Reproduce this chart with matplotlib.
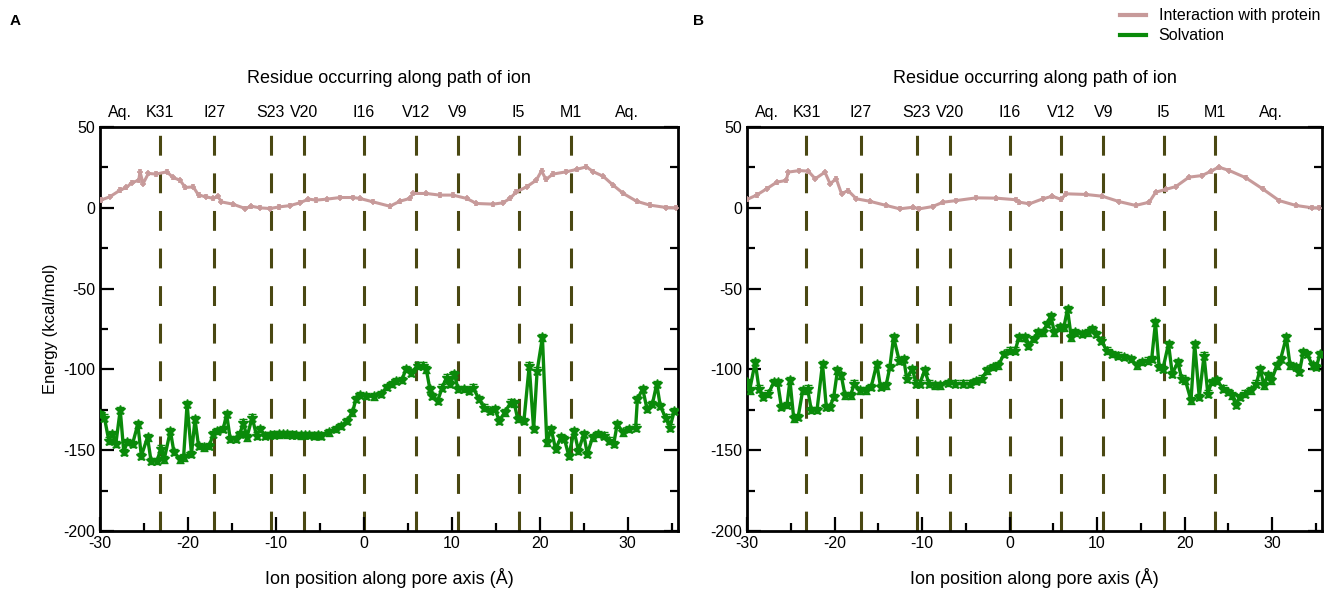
import numpy as np
import matplotlib.pyplot as plt
from matplotlib.ticker import MultipleLocator

plt.rcParams['font.family'] = ['Liberation Sans', 'DejaVu Sans']
plt.rcParams['axes.unicode_minus'] = False

# residue markers along the pore (Å)
residues = ["K31", "I27", "S23", "V20", "I16", "V12", "V9", "I5", "M1"]
residue_x = [-23.2, -17.0, -10.6, -6.8, 0.0, 5.9, 10.7, 17.6, 23.5]
top_labels = ["Aq."] + residues + ["Aq."]
top_label_x = [-27.7] + residue_x + [29.9]

# Panel A - interaction with protein
protA_x = [-29.9, -28.9, -27.7, -27.0, -26.4, -25.6, -25.45, -25.1, -24.5, -23.6,
           -22.4, -21.7, -20.9, -20.3, -19.4, -18.8, -17.9, -17.1, -16.6, -16.2,
           -14.9, -13.5, -12.8, -11.8, -10.7, -9.6, -8.4, -7.3, -6.3, -5.4,
           -4.2, -2.7, -1.2, -0.45, 1.05, 2.95, 4.1, 5.2, 5.6, 7.1,
           8.6, 10.1, 11.7, 12.8, 14.7, 15.8, 16.6, 17.35, 18.5, 19.6,
           20.2, 20.7, 21.5, 23.0, 24.2, 25.3, 26.1, 27.2, 28.35, 29.5,
           31.0, 32.5, 34.4, 35.5]
protA_y = [4.8, 6.8, 11.0, 12.6, 15.5, 17.1, 22.3, 15.0, 21.3, 20.9,
           22.3, 18.8, 17.1, 12.6, 13.0, 7.9, 6.8, 5.8, 7.2, 3.7,
           2.3, -0.4, 1.0, 0.0, -0.4, 0.6, 1.4, 3.1, 5.4, 4.8,
           5.4, 6.4, 6.4, 5.8, 3.7, 1.0, 4.1, 5.8, 8.9, 8.9,
           7.9, 7.9, 5.8, 2.7, 2.3, 3.1, 5.8, 9.9, 13.0, 17.1,
           22.9, 17.6, 20.9, 22.3, 23.8, 25.4, 22.3, 19.6, 14.0, 8.9,
           4.1, 1.7, 0.2, 0.0]

# Panel A - solvation
solvA_x = [-30.0, -29.5, -29.0, -28.6, -28.2, -27.7, -27.3, -26.9, -26.3, -25.7,
           -25.3, -24.6, -24.2, -23.5, -23.1, -22.7, -22.0, -21.6, -20.9, -20.5,
           -20.1, -19.6, -19.2, -18.8, -18.2, -17.6, -17.1, -16.7, -16.0, -15.6,
           -15.2, -14.5, -14.1, -13.7, -13.3, -12.7, -12.2, -11.8, -11.2, -10.7,
           -10.2, -9.7, -9.2, -8.7, -8.2, -7.7, -7.2, -6.7, -6.2, -5.7,
           -5.2, -4.9, -4.0, -3.2, -2.6, -1.9, -1.3, -0.9, -0.4, 0.2,
           1.1, 1.9, 2.6, 3.2, 3.7, 4.3, 4.8, 5.4, 6.1, 6.7,
           7.1, 7.5, 7.8, 8.4, 8.9, 9.4, 9.8, 10.3, 10.7, 11.4,
           12.0, 12.4, 13.1, 13.7, 14.3, 14.9, 15.4, 16.0, 16.7, 17.1,
           17.5, 18.2, 18.8, 19.3, 19.7, 20.3, 20.8, 21.3, 21.8, 22.4,
           22.8, 23.3, 23.9, 24.4, 25.0, 25.4, 26.0, 26.6, 27.3, 27.9,
           28.4, 28.8, 29.5, 30.1, 30.9, 31.1, 31.7, 32.2, 32.8, 33.3,
           33.7, 34.3, 34.8, 35.3]
solvA_y = [-127.7, -129.8, -144.0, -140.0, -146.0, -125.0, -151.0, -145.0, -146.0, -134.0,
           -153.5, -142.0, -156.6, -156.6, -149.0, -155.6, -138.0, -151.0, -155.6, -154.5,
           -121.5, -152.5, -130.8, -147.3, -148.3, -147.3, -140.0, -138.0, -137.0, -127.7,
           -143.0, -143.0, -140.0, -132.9, -142.0, -129.8, -141.0, -137.0, -141.0, -140.5,
           -140.3, -140.2, -140.0, -140.2, -140.4, -140.6, -140.8, -140.6, -140.7, -141.0,
           -140.8, -141.0, -139.0, -137.0, -135.0, -131.8, -126.6, -118.4, -115.9, -116.5,
           -116.7, -115.3, -111.0, -109.0, -107.0, -106.6, -99.8, -101.9, -97.7, -97.7,
           -100.0, -112.0, -116.3, -119.4, -111.2, -105.0, -109.0, -102.9, -112.0, -112.0,
           -113.2, -111.2, -118.4, -123.6, -125.6, -124.6, -131.8, -126.6, -120.5, -121.0,
           -130.8, -131.8, -97.7, -137.0, -100.8, -80.2, -145.2, -137.0, -149.4, -142.0,
           -143.0, -153.5, -138.0, -150.4, -140.0, -152.5, -142.0, -140.0, -141.0, -144.0,
           -146.3, -134.0, -139.0, -137.0, -136.0, -118.4, -112.0, -124.6, -121.5, -109.0,
           -122.6, -129.8, -136.0, -125.6]

# Panel B - interaction with protein
protB_x = [-30.0, -28.9, -27.75, -26.6, -25.5, -25.3, -24.0, -23.0, -22.2, -21.1,
           -20.5, -19.8, -19.2, -18.45, -17.5, -16.0, -14.1, -12.55, -11.0, -10.3,
           -8.8, -7.6, -6.1, -3.8, -1.5, 0.75, 1.13, 2.27, 3.8, 4.9,
           5.9, 6.45, 8.7, 10.6, 12.5, 14.4, 15.95, 16.7, 17.85, 19.0,
           20.5, 22.0, 23.0, 23.9, 25.1, 27.0, 28.9, 30.8, 32.7, 34.6,
           35.3]
protB_y = [5.2, 7.9, 11.8, 15.9, 17.0, 22.1, 23.1, 22.7, 18.0, 22.1,
           14.9, 18.0, 8.7, 10.7, 5.6, 4.1, 1.5, -0.6, 0.4, -0.6,
           0.8, 3.5, 4.5, 6.2, 6.0, 5.0, 3.5, 2.5, 5.6, 7.2,
           5.2, 8.7, 8.3, 7.2, 3.9, 1.5, 3.5, 9.7, 11.4, 13.2,
           19.0, 20.0, 22.7, 25.2, 23.1, 18.6, 11.8, 4.5, 1.5, 0.0,
           0.0]

# Panel B - solvation
solvB_x = [-30.0, -29.7, -29.06, -28.63, -28.2, -27.56, -26.92, -26.5, -26.07, -25.43,
           -25.09, -24.66, -24.15, -23.63, -23.08, -22.65, -22.0, -21.37, -20.94, -20.51,
           -20.09, -19.66, -19.23, -18.8, -18.16, -17.74, -17.09, -16.45, -15.81, -15.17,
           -14.74, -14.1, -13.68, -13.25, -12.61, -12.09, -11.75, -11.11, -10.68, -10.26,
           -9.7, -9.19, -8.55, -7.91, -7.05, -6.2, -5.34, -4.49, -3.85, -3.2,
           -2.56, -1.92, -1.28, -0.64, 0.0, 0.64, 1.07, 1.71, 2.14, 2.78,
           3.21, 3.85, 4.27, 4.7, 5.13, 5.77, 6.2, 6.62, 7.05, 7.48,
           8.33, 8.97, 9.4, 9.83, 10.47, 11.11, 11.75, 12.39, 13.03, 13.89,
           14.53, 15.17, 15.81, 16.24, 16.67, 17.09, 17.52, 18.16, 18.59, 19.23,
           19.66, 20.09, 20.73, 21.15, 21.67, 22.22, 22.65, 23.08, 23.72, 24.36,
           25.0, 25.43, 25.86, 26.28, 26.92, 27.56, 28.2, 28.63, 29.06, 29.49,
           29.91, 30.56, 30.98, 31.62, 32.05, 32.69, 33.12, 33.55, 33.97, 34.62,
           35.04, 35.47]
solvB_y = [-107.8, -112.9, -95.5, -111.9, -117.0, -115.0, -107.8, -107.8, -123.2, -122.1,
           -106.8, -130.3, -129.3, -112.9, -111.9, -125.2, -125.2, -96.5, -123.2, -123.2,
           -117.0, -100.6, -103.7, -116.0, -116.0, -108.8, -112.9, -112.9, -110.9, -96.5,
           -110.9, -109.8, -98.6, -80.1, -94.5, -93.4, -105.7, -99.6, -108.8, -108.8,
           -100.6, -108.8, -109.8, -109.8, -108.4, -108.8, -108.8, -108.8, -107.2, -105.7,
           -100.6, -98.6, -97.5, -90.4, -88.3, -88.3, -80.1, -80.1, -85.2, -81.1,
           -77.0, -77.0, -71.9, -66.8, -77.0, -74.0, -74.0, -62.7, -80.1, -77.0,
           -78.1, -77.0, -75.0, -78.1, -82.2, -88.3, -90.4, -91.4, -92.4, -93.4,
           -97.5, -95.5, -94.5, -93.4, -70.9, -98.6, -99.6, -84.2, -102.7, -95.5,
           -105.7, -106.8, -119.1, -84.2, -117.0, -91.4, -115.0, -107.8, -106.8, -111.9,
           -113.9, -116.0, -122.1, -117.0, -115.0, -112.9, -108.8, -99.6, -109.8, -103.7,
           -106.8, -97.5, -93.4, -80.1, -97.5, -98.6, -101.6, -89.3, -90.4, -97.5,
           -98.6, -90.4]

prot_err = 1.0
solv_err = 2.0

pink = '#c79a9a'
green = '#0a8a0a'
dash_color = '#4a4812'

fig = plt.figure(figsize=(13.37, 5.91), dpi=100)
axA = fig.add_axes([0.0748, 0.1015, 0.4322, 0.6835])
axB = fig.add_axes([0.5587, 0.1015, 0.4301, 0.6835])

panels = [(axA, protA_x, protA_y, solvA_x, solvA_y),
          (axB, protB_x, protB_y, solvB_x, solvB_y)]

for ax, px, py, sx, sy in panels:
    for rx in residue_x:
        ax.axvline(rx, color=dash_color, lw=2.2, dashes=(6.5, 5.8), zorder=1)

    ax.errorbar(px, py, yerr=prot_err, color=pink, lw=2.2, marker='+', ms=4,
                mew=1.2, capsize=1.5, elinewidth=1, zorder=3)
    ax.errorbar(sx, sy, yerr=solv_err, color=green, lw=2.4, marker='*', ms=7,
                capsize=3, elinewidth=1.3, zorder=4)

    ax.set_xlim(-30, 35.7)
    ax.set_ylim(-200, 50)
    ax.xaxis.set_major_locator(MultipleLocator(10))
    ax.xaxis.set_minor_locator(MultipleLocator(5))
    ax.yaxis.set_major_locator(MultipleLocator(50))
    ax.yaxis.set_minor_locator(MultipleLocator(25))
    ax.tick_params(which='both', direction='in', right=True, top=False,
                   labelsize=11.5, width=1.6)
    ax.tick_params(which='major', length=10)
    ax.tick_params(which='minor', length=6)
    for sp in ax.spines.values():
        sp.set_linewidth(2)

    top = ax.secondary_xaxis('top')
    top.set_xticks(top_label_x)
    top.set_xticklabels(top_labels, fontsize=11.5)
    top.tick_params(length=0, pad=5)
    top.spines['top'].set_visible(False)

    ax.set_title("Residue occurring along path of ion", fontsize=13, pad=32)
    ax.set_xlabel("Ion position along pore axis (Å)", fontsize=13, labelpad=12)

axA.set_ylabel("Energy (kcal/mol)", fontsize=12)

fig.text(0.007, 0.965, "A", fontsize=11, fontweight='bold', va='center')
fig.text(0.518, 0.965, "B", fontsize=11, fontweight='bold', va='center')

handles = [plt.Line2D([], [], color=pink, lw=3),
           plt.Line2D([], [], color=green, lw=3)]
fig.legend(handles, ["Interaction with protein", "Solvation"],
           loc='upper right', bbox_to_anchor=(0.998, 1.01), frameon=False,
           fontsize=11.5, handlelength=1.6, labelspacing=0.3)

fig.savefig("out.png", dpi=100)
